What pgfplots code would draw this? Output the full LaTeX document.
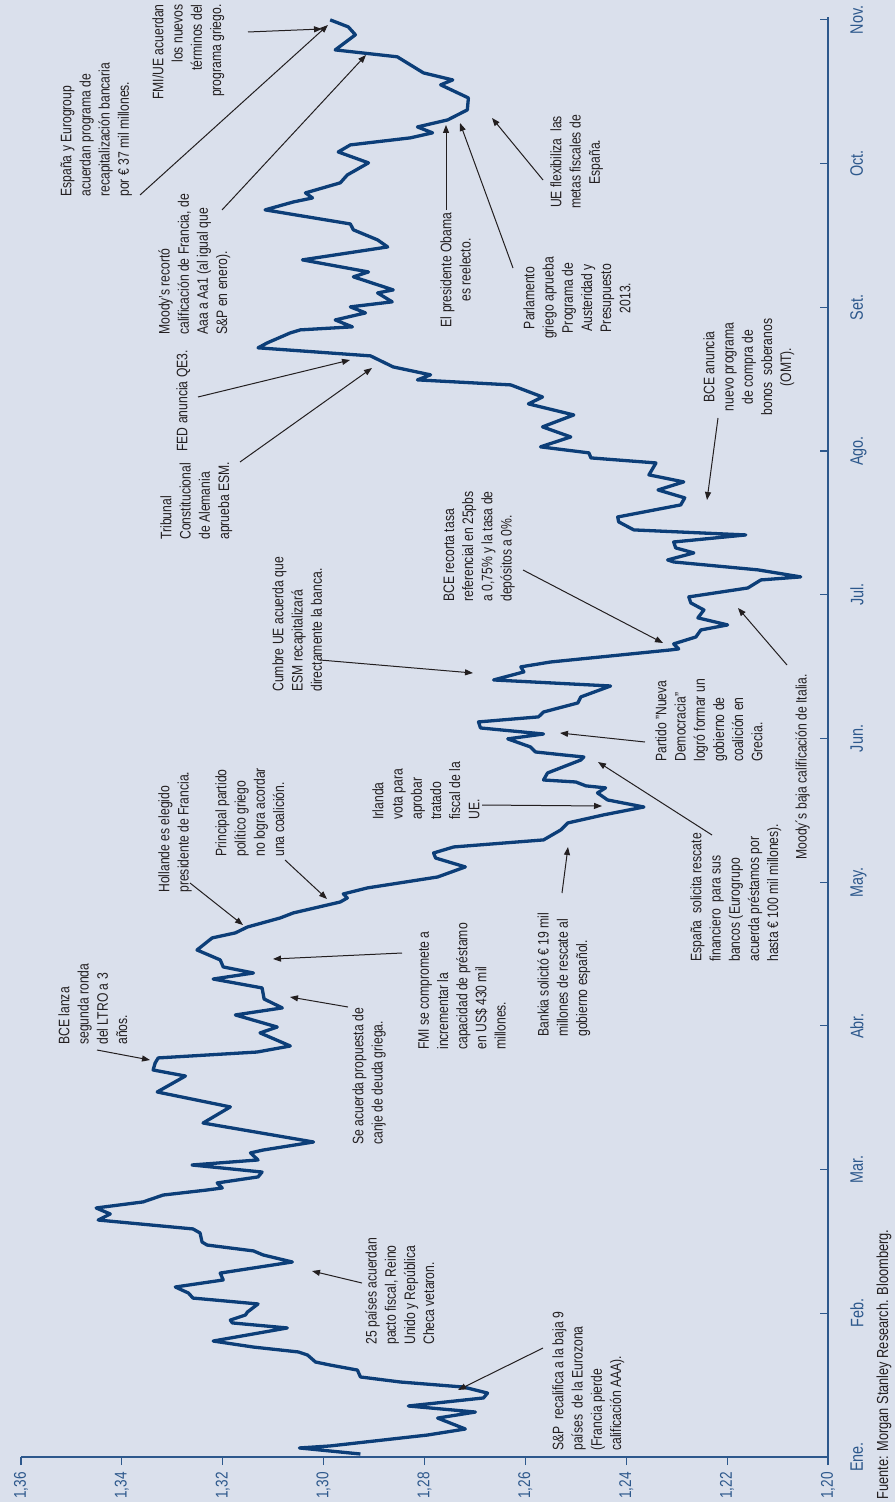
\documentclass[border=0pt]{standalone}
\usepackage{pgfplots}
\pgfplotsset{compat=1.18}
\usepackage{fontspec}
\setmainfont{Liberation Sans}[FakeStretch=0.8]
\usetikzlibrary{arrows.meta}
\definecolor{bg}{RGB}{218,224,236}
\definecolor{serie}{RGB}{12,62,120}
\definecolor{ejes}{RGB}{45,88,140}
\definecolor{txt}{RGB}{35,31,32}
\begin{document}
\begin{tikzpicture}
\path[use as bounding box, fill=bg] (0,0) rectangle (447.5pt,-751pt);
\begin{axis}[
  scale only axis, width=403.5pt, height=720pt,
  at={(10.5pt,-728.5pt)}, anchor=south west,
  xmin=1.20, xmax=1.36, x dir=reverse,
  ymin=0, ymax=10.02,
  axis x line*=bottom, axis y line*=right,
  axis line style={ejes, line width=0.6pt},
  xtick={1.20,1.22,1.24,1.26,1.28,1.30,1.32,1.34,1.36},
  xticklabels={{1,20},{1,22},{1,24},{1,26},{1,28},{1,30},{1,32},{1,34},{1,36}},
  ytick={0,1,2,3,4,5,6,7,8,9,10},
  yticklabels={Ene.,Feb.,Mar.,Abr.,May.,Jun.,Jul.,Ago.,Set.,Oct.,Nov.},
  xtick align=outside, ytick align=inside,
  major tick length=4pt,
  tick style={ejes, line width=0.6pt},
  xticklabel style={rotate=90, anchor=east, inner sep=0pt, text=ejes, font=\fontsize{8.5}{10}\selectfont},
  xticklabel shift=3.5pt,
  yticklabel style={rotate=90, anchor=north, inner sep=0pt, text=ejes, font=\fontsize{9}{10}\selectfont},
  yticklabel shift=11pt,
  clip=false,
]
\addplot[serie, line width=1.65pt, line join=round, mark=none] coordinates {
(1.2927,0.021) (1.3048,0.063) (1.2987,0.077) (1.2794,0.153) (1.2719,0.195)
(1.2774,0.271) (1.2699,0.313) (1.2832,0.355) (1.2683,0.411) (1.2675,0.445)
(1.2723,0.487) (1.2848,0.522) (1.2927,0.557) (1.2933,0.605) (1.2987,0.640)
(1.3016,0.661) (1.3032,0.710) (1.3050,0.731) (1.3139,0.765) (1.3219,0.807)
(1.3072,0.898) (1.3181,0.933) (1.3185,0.953) (1.3155,0.988) (1.3151,1.009)
(1.3130,1.065) (1.3259,1.106) (1.3268,1.141) (1.3294,1.183) (1.3199,1.232)
(1.3205,1.280) (1.3062,1.357) (1.3120,1.406) (1.3139,1.434) (1.3231,1.475)
(1.3241,1.496) (1.3245,1.559) (1.3259,1.587) (1.3447,1.649) (1.3423,1.691)
(1.3451,1.733) (1.3358,1.775) (1.3318,1.823) (1.3231,1.858) (1.3201,1.872)
(1.3211,1.907) (1.3130,1.949) (1.3122,1.983) (1.3261,2.032) (1.3130,2.067)
(1.3145,2.116) (1.3120,2.136) (1.3020,2.192) (1.3239,2.324) (1.3185,2.436)
(1.3330,2.540) (1.3274,2.651) (1.3338,2.693) (1.3334,2.742) (1.3328,2.777)
(1.3132,2.818) (1.3066,2.860) (1.3126,2.951) (1.3092,2.992) (1.3175,3.076)
(1.3082,3.125) (1.3118,3.187) (1.3122,3.264) (1.3219,3.326) (1.3139,3.368)
(1.3199,3.410) (1.3205,3.459) (1.3251,3.528) (1.3221,3.612) (1.3175,3.647)
(1.3151,3.688) (1.3086,3.751) (1.3060,3.786) (1.2967,3.862) (1.2953,3.890)
(1.2961,3.918) (1.2913,3.960) (1.2774,4.036) (1.2719,4.106) (1.2778,4.168)
(1.2782,4.203) (1.2742,4.245) (1.2564,4.294) (1.2530,4.363) (1.2516,4.412)
(1.2445,4.468) (1.2365,4.523) (1.2437,4.572) (1.2457,4.621) (1.2441,4.656)
(1.2480,4.670) (1.2500,4.697) (1.2564,4.711) (1.2556,4.760) (1.2490,4.850)
(1.2484,4.871) (1.2524,4.885) (1.2580,4.906) (1.2590,4.941) (1.2635,4.997)
(1.2564,5.031) (1.2689,5.073) (1.2693,5.115) (1.2574,5.150) (1.2564,5.184)
(1.2496,5.247) (1.2490,5.289) (1.2431,5.365) (1.2663,5.407) (1.2603,5.463)
(1.2609,5.498) (1.2550,5.532) (1.2312,5.616) (1.2296,5.623) (1.2306,5.658)
(1.2262,5.706) (1.2252,5.755) (1.2199,5.790) (1.2258,5.839) (1.2246,5.894)
(1.2272,5.943) (1.2276,5.985) (1.2159,6.047) (1.2133,6.103) (1.2054,6.124)
(1.2139,6.173) (1.2306,6.228) (1.2318,6.242) (1.2266,6.291) (1.2302,6.326)
(1.2306,6.367) (1.2163,6.416) (1.2385,6.451) (1.2415,6.507) (1.2417,6.541)
(1.2292,6.625) (1.2284,6.674) (1.2337,6.729) (1.2286,6.785) (1.2355,6.834)
(1.2341,6.917) (1.2470,6.952) (1.2474,6.987) (1.2570,7.029) (1.2510,7.098)
(1.2566,7.168) (1.2504,7.251) (1.2594,7.328) (1.2566,7.376) (1.2629,7.460)
(1.2814,7.495) (1.2788,7.530) (1.2862,7.585) (1.2907,7.662) (1.3130,7.718)
(1.3112,7.752) (1.3066,7.822) (1.3046,7.843) (1.2943,7.864) (1.2977,7.912)
(1.2917,7.961) (1.2947,8.003) (1.2864,8.038) (1.2893,8.100) (1.2862,8.121)
(1.2941,8.212) (1.2911,8.246) (1.3042,8.330) (1.2873,8.420) (1.2893,8.469)
(1.2941,8.539) (1.2947,8.580) (1.3116,8.678) (1.3060,8.733) (1.3022,8.761)
(1.3036,8.796) (1.2967,8.866) (1.2953,8.921) (1.2911,9.005) (1.2971,9.081)
(1.2947,9.130) (1.2828,9.179) (1.2784,9.214) (1.2814,9.255) (1.2754,9.304)
(1.2715,9.374) (1.2713,9.457) (1.2768,9.548) (1.2744,9.582) (1.2802,9.631)
(1.2854,9.743) (1.2977,9.791) (1.2937,9.896) (1.2951,9.951) (1.2987,10.0)
};
\end{axis}
\begin{scope}[x=0.5pt, y=-0.5pt,
  ann/.style={rotate=90, inner sep=0pt, text=txt, font=\fontsize{7.6}{9.6}\selectfont},
  flecha/.style={txt, line width=0.5pt, -{Triangle[length=4pt,width=3pt]}}]
% textos
\node[ann, anchor=north west, align=left] at (60,197) {España y Eurogroup\\acuerdan programa de\\recapitalización bancaria\\por € 37 mil millones.};
\node[ann, anchor=north east, align=right] at (152,4) {FMI/UE acuerdan\\los nuevos\\términos del\\programa griego.};
\node[ann, anchor=north west, align=left] at (158,335) {Moody's recortó\\calificación de Francia, de\\Aaa a Aa1 (al igual que\\S\&P en enero).};
\node[ann, anchor=north west, align=left] at (176,452) {FED anuncia QE3.};
\node[ann, anchor=north west, align=left] at (160,540) {Tribunal\\Constitucional\\de Alemania\\aprueba ESM.};
\node[ann, anchor=north west, align=left] at (58,1045) {BCE lanza\\segunda ronda\\del LTRO a 3\\años.};
\node[ann, anchor=north west, align=left] at (352,1145) {Se acuerda propuesta de\\canje de deuda griega.};
\node[ann, anchor=north west, align=left] at (418,1050) {FMI se compromete a\\incrementar la\\capacidad de préstamo\\en US\$ 430 mil\\millones.};
\node[ann, anchor=north west, align=left] at (158,893) {Hollande es elegido\\presidente de Francia.};
\node[ann, anchor=north west, align=left] at (215,857) {Principal partido\\político griego\\no logra acordar\\una coalición.};
\node[ann, anchor=north west, align=left] at (372,820) {Irlanda\\vota para\\aprobar\\tratado\\fiscal de la\\UE.};
\node[ann, anchor=north west, align=left] at (537,1037) {Bankia solicitó € 19 mil\\millones de rescate al\\gobierno español.};
\node[ann, anchor=north west, align=left] at (272,692) {Cumbre UE acuerda que\\ESM recapitalizará\\directamente la banca.};
\node[ann, anchor=north west, align=left] at (443,602) {BCE recorta tasa\\referencial en 25pbs\\a 0,75\% y la tasa de\\depósitos a 0\%.};
\node[ann, anchor=north west, align=left] at (655,762) {Partido "Nueva\\Democracia"\\logró formar un\\gobierno de\\coalición en\\Grecia.};
\node[ann, anchor=north west, align=left] at (690,962) {España\ \ solicita rescate\\financiero\ \ para sus\\bancos (Eurogrupo\\acuerda préstamos por\\hasta € 100 mil millones).};
\node[ann, anchor=north west, align=left] at (795,860) {Moody´s baja calificación de Italia.};
\node[ann, anchor=north west, align=left] at (552,1451) {S\&P\ \ recalifica a la baja 9\\países\ \ de la Eurozona\\(Francia pierde\\calificación AAA).};
\node[ann, anchor=north west, align=left] at (365,1345) {25 países acuerdan\\pacto fiscal, Reino\\Unido y República\\Checa vetaron.};
\node[ann, anchor=north, align=center] at (703,367) {BCE anuncia\\nuevo programa\\de compra de\\bonos\ \ soberanos\\(OMT).};
\node[ann, anchor=north, align=center] at (440,270) {El presidente Obama\\es reelecto.};
\node[ann, anchor=north, align=center] at (523,298) {Parlamento\\griego aprueba\\Programa de\\Austeridad y\\Presupuesto\\2013.};
\node[ann, anchor=north, align=center] at (550,162) {UE flexibiliza\ \ las\\metas fiscales de\\España.};
\node[ann, anchor=north west, align=left, text=txt, font=\fontsize{8}{9.5}\selectfont] at (876,1500) {Fuente: Morgan Stanley Research. Bloomberg.};
% flechas
\draw[flecha] (140,195) -- (328,25);
\draw[flecha] (248,32) -- (322,29);
\draw[flecha] (222,210) -- (366,55);
\draw[flecha] (198,397) -- (350,360);
\draw[flecha] (240,462) -- (372,368);
\draw[flecha] (97,1050) -- (150,1060);
\draw[flecha] (348,1007) -- (290,997);
\draw[flecha] (402,953) -- (273,959);
\draw[flecha] (190,883) -- (243,925);
\draw[flecha] (285,860) -- (327,899);
\draw[flecha] (482,805) -- (602,806);
\draw[flecha] (562,893) -- (568,847);
\draw[flecha] (320,660) -- (473,673);
\draw[flecha] (523,570) -- (663,643);
\draw[flecha] (645,742) -- (560,733);
\draw[flecha] (712,835) -- (598,762);
\draw[flecha] (787,665) -- (738,608);
\draw[flecha] (543,1348) -- (458,1390);
\draw[flecha] (362,1283) -- (312,1271);
\draw[flecha] (718,418) -- (707,500);
\draw[flecha] (446,210) -- (446,125);
\draw[flecha] (513,268) -- (460,123);
\draw[flecha] (543,180) -- (492,118);
\end{scope}
\end{tikzpicture}
\end{document}
